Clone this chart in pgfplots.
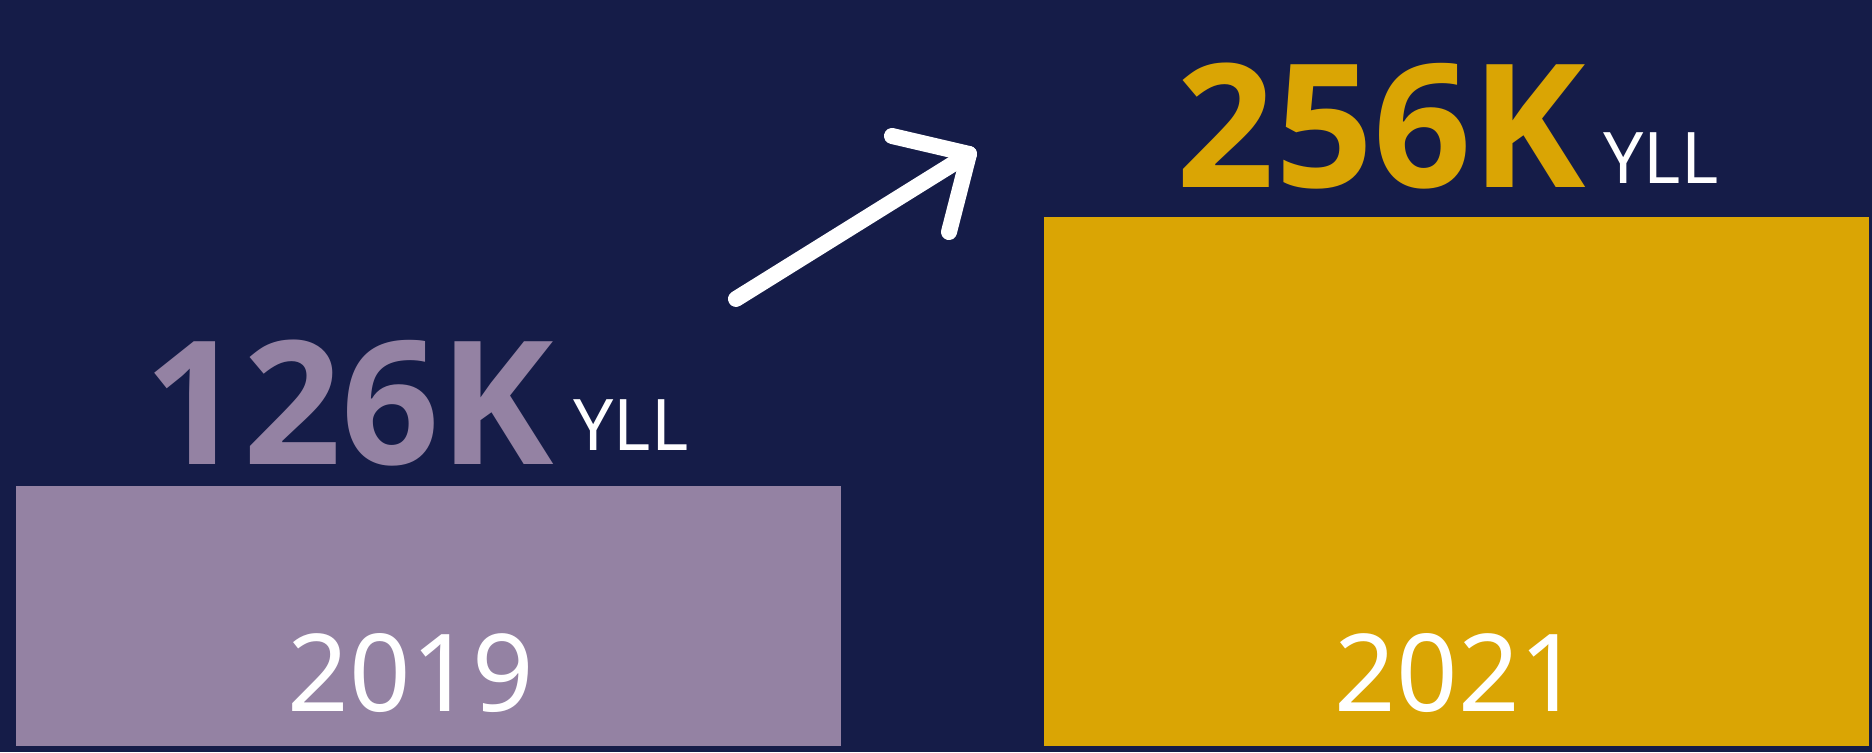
\documentclass[border=0pt]{standalone}
\usepackage{pgfplots}
\pgfplotsset{compat=1.18}
\usepackage{fontspec}
\setmainfont{Noto Sans}
\newfontfamily\numfont{Open Sans}
\definecolor{navy}{RGB}{21,28,72}
\definecolor{purp}{RGB}{148,130,163}
\definecolor{gold}{RGB}{218,165,4}
\begin{document}
\begin{tikzpicture}
\path[use as bounding box] (0,0) rectangle (936pt,376pt);
\fill[navy] (0,0) rectangle (936pt,376pt);
\begin{axis}[
  at={(0,0)}, anchor=south west,
  scale only axis, width=936pt, height=376pt,
  xmin=0, xmax=1872, ymin=-2.906, ymax=361.26,
  hide axis, clip=false,
]
\addplot[ybar, bar width=825, bar shift=0pt, fill=purp, draw=none] coordinates {(428.5,126)};
\addplot[ybar, bar width=825, bar shift=0pt, fill=gold, draw=none] coordinates {(1456.5,256)};
\node[anchor=base east, inner sep=0pt, text=purp, font=\numfont\fontsize{86}{86}\selectfont\bfseries] at (axis cs:554,136.1) {126K};
\node[anchor=base west, inner sep=0pt, text=white, font=\fontsize{35.6}{36}\selectfont] at (axis cs:573,142.9) {YLL};
\node[anchor=base east, inner sep=0pt, text=gold, font=\numfont\fontsize{86}{86}\selectfont\bfseries] at (axis cs:1586,270.7) {256K};
\node[anchor=base west, inner sep=0pt, text=white, font=\fontsize{35.6}{36}\selectfont] at (axis cs:1603,272.2) {YLL};
\node[anchor=base, inner sep=0pt, text=white, font=\fontsize{53.8}{54}\selectfont] at (axis cs:411,16.5) {2019};
\node[anchor=base, inner sep=0pt, text=white, font=\fontsize{53.8}{54}\selectfont] at (axis cs:1458,16.5) {2021};
\draw[white, line width=8pt, line cap=round, line join=round] (axis cs:736,216.5) -- (axis cs:969,286.7);
\draw[white, line width=8pt, line cap=round, line join=round] (axis cs:892,295.4) -- (axis cs:969,286.7) -- (axis cs:949,248.9);
\end{axis}
\end{tikzpicture}
\end{document}
